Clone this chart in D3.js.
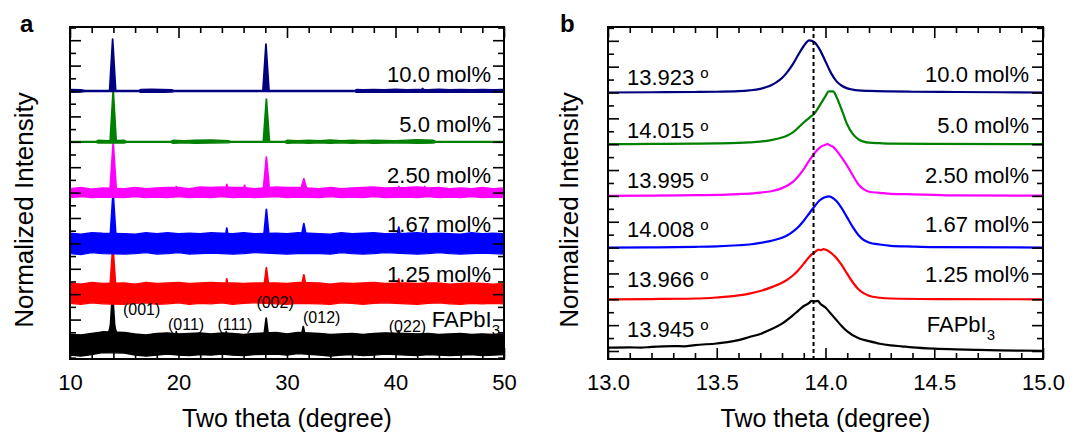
<!DOCTYPE html>
<html><head><meta charset="utf-8">
<script src="https://cdn.jsdelivr.net/npm/d3@7"></script>
<style>
body{margin:0;background:#fff;}
text{font-family:"Liberation Sans",Arial,sans-serif;fill:#000;}
</style></head><body>
<svg id="chart" width="1091" height="437"></svg>
<script>
// ---------------- DATA ----------------
// series order: bottom (offset 0) to top (offset 5)
const seriesLabels = ["FAPbI", "1.25 mol%", "1.67 mol%", "2.50 mol%", "5.0 mol%", "10.0 mol%"];
const seriesColors = ["#000000", "#ff0000", "#0000ff", "#ff00ff", "#008000", "#000080"];
const peakAngleLabels = ["13.945", "13.966", "14.008", "13.995", "14.015", "13.923"];
const refPeak = 13.945;
const xTicksA = [10, 20, 30, 40, 50];
const xTicksB = [13.0, 13.5, 14.0, 14.5, 15.0];
const hklText = ["(001)", "(011)", "(111)", "(002)", "(012)", "(022)"];
const hklAngle = [16.6, 20.7, 25.2, 28.9, 33.2, 41.1];

// panel a: noise band [2θ, low, high] (normalized intensity, relative to trace baseline)
const bandA0 = [[10,-0.2,0.21],[11,-0.22,0.2],[12,-0.19,0.23],[13,-0.15,0.26],[15,-0.16,0.25],[16,-0.2,0.22],[17,-0.22,0.2],[18,-0.2,0.23],[19,-0.18,0.24],[20,-0.2,0.22],[21,-0.21,0.23],[22,-0.19,0.24],[23,-0.2,0.22],[24,-0.18,0.24],[25,-0.2,0.23],[26,-0.21,0.21],[27,-0.19,0.23],[29,-0.18,0.25],[30,-0.2,0.22],[31,-0.17,0.25],[33,-0.2,0.23],[34,-0.22,0.21],[35,-0.2,0.22],[36,-0.19,0.23],[37,-0.21,0.21],[38,-0.2,0.23],[39,-0.18,0.24],[41,-0.2,0.23],[42,-0.21,0.22],[43,-0.19,0.23],[44,-0.2,0.21],[45,-0.21,0.22],[46,-0.2,0.23],[47,-0.19,0.21],[48,-0.21,0.22],[49,-0.2,0.21],[50,-0.19,0.22]];
const bandA1 = [[10,-0.18,0.22],[11,-0.2,0.2],[12,-0.17,0.23],[13,-0.19,0.21],[15,-0.2,0.22],[16,-0.18,0.2],[17,-0.17,0.23],[18,-0.2,0.21],[19,-0.19,0.22],[20,-0.17,0.23],[21,-0.2,0.21],[22,-0.18,0.22],[23,-0.19,0.23],[24,-0.17,0.22],[25,-0.2,0.22],[26,-0.18,0.21],[27,-0.17,0.22],[29,-0.19,0.22],[30,-0.2,0.21],[31,-0.18,0.23],[33,-0.19,0.22],[34,-0.2,0.2],[35,-0.17,0.22],[36,-0.18,0.21],[37,-0.2,0.22],[38,-0.18,0.23],[39,-0.17,0.21],[41,-0.19,0.22],[42,-0.2,0.21],[43,-0.18,0.22],[44,-0.17,0.22],[45,-0.19,0.2],[46,-0.2,0.21],[47,-0.18,0.22],[48,-0.19,0.21],[49,-0.18,0.2],[50,-0.19,0.21]];
const bandA2 = [[10,-0.2,0.2],[11,-0.22,0.18],[12,-0.18,0.21],[13,-0.2,0.2],[15,-0.21,0.19],[16,-0.2,0.18],[17,-0.18,0.21],[18,-0.21,0.19],[19,-0.2,0.21],[20,-0.18,0.19],[21,-0.21,0.2],[22,-0.2,0.19],[23,-0.19,0.21],[24,-0.2,0.2],[25,-0.21,0.19],[26,-0.2,0.21],[27,-0.18,0.19],[29,-0.2,0.2],[30,-0.21,0.19],[31,-0.2,0.21],[33,-0.2,0.19],[34,-0.21,0.18],[35,-0.18,0.21],[36,-0.2,0.19],[37,-0.21,0.2],[38,-0.2,0.21],[39,-0.18,0.19],[41,-0.2,0.2],[42,-0.21,0.21],[43,-0.2,0.19],[44,-0.18,0.2],[45,-0.2,0.19],[46,-0.21,0.18],[47,-0.2,0.21],[48,-0.19,0.19],[49,-0.2,0.2],[50,-0.21,0.19]];
const bandA3 = [[10,-0.1,0.08],[11,-0.08,0.1],[12,-0.1,0.07],[13,-0.09,0.09],[15,-0.1,0.08],[16,-0.08,0.1],[17,-0.1,0.08],[18,-0.09,0.09],[19,-0.1,0.1],[20,-0.08,0.1],[21,-0.1,0.08],[22,-0.09,0.11],[23,-0.1,0.1],[24,-0.08,0.11],[25,-0.1,0.1],[26,-0.09,0.1],[27,-0.1,0.08],[29,-0.08,0.11],[30,-0.1,0.1],[31,-0.09,0.1],[33,-0.1,0.08],[34,-0.08,0.1],[35,-0.1,0.08],[36,-0.09,0.09],[37,-0.1,0.1],[38,-0.08,0.11],[39,-0.1,0.09],[41,-0.09,0.1],[42,-0.1,0.11],[43,-0.08,0.09],[44,-0.1,0.1],[45,-0.09,0.08],[46,-0.1,0.09],[47,-0.08,0.08],[48,-0.1,0.1],[49,-0.09,0.08],[50,-0.1,0.09]];
const bandA4 = [[10,-0.01,0.01],[12.4,-0.01,0.01],[12.6,-0.025,0.03],[13.5,-0.02,0.025],[15,-0.025,0.03],[15.2,-0.01,0.01],[19.3,-0.01,0.01],[19.5,-0.03,0.03],[20.5,-0.02,0.025],[21.5,-0.03,0.03],[23,-0.025,0.035],[24.6,-0.02,0.025],[24.8,-0.01,0.01],[29.8,-0.01,0.01],[30,-0.03,0.03],[31,-0.02,0.025],[32,-0.03,0.03],[33,-0.02,0.025],[34,-0.03,0.035],[35,-0.02,0.025],[36,-0.03,0.03],[37,-0.02,0.025],[38,-0.03,0.03],[40,-0.02,0.025],[42,-0.03,0.04],[43.5,-0.025,0.03],[43.7,-0.01,0.01],[50,-0.01,0.01]];
const bandA5 = [[10,-0.025,0.03],[11,-0.02,0.025],[11.4,-0.01,0.01],[16.3,-0.01,0.01],[16.5,-0.025,0.03],[17.5,-0.02,0.035],[18.5,-0.025,0.03],[19.4,-0.02,0.025],[19.6,-0.01,0.01],[36.2,-0.01,0.01],[36.4,-0.025,0.03],[37,-0.02,0.025],[38,-0.025,0.03],[39,-0.02,0.025],[40,-0.025,0.035],[41,-0.02,0.025],[42,-0.025,0.03],[43,-0.02,0.025],[44,-0.025,0.035],[45,-0.02,0.025],[46,-0.025,0.03],[47,-0.02,0.025],[48,-0.025,0.03],[49,-0.02,0.025],[50,-0.025,0.03]];

// panel a: peaks [2θ, height, half base width]
const peaksA0 = [[13.92,0.5,0.7],[13.92,1.04,0.3],[28.08,0.53,0.3],[31.5,0.36,0.35],[40.3,0.28,0.3],[19.8,0.26,0.2],[24.4,0.26,0.2]];
const peaksA1 = [[13.95,0.95,0.3],[28.1,0.52,0.3],[31.55,0.38,0.35],[40.3,0.3,0.25],[24.45,0.3,0.2],[42.8,0.28,0.2]];
const peaksA2 = [[13.97,1.0,0.3],[28.1,0.67,0.3],[31.55,0.39,0.35],[40.3,0.32,0.25],[24.45,0.3,0.2],[42.8,0.28,0.2]];
const peaksA3 = [[13.98,0.98,0.3],[28.1,0.7,0.3],[31.55,0.27,0.35],[24.45,0.16,0.2],[26.1,0.14,0.2],[19.8,0.12,0.15],[40.3,0.12,0.2],[42.7,0.12,0.2]];
const peaksA4 = [[13.98,1.02,0.28],[28.1,0.84,0.28]];
const peaksA5 = [[13.93,1.02,0.28],[28.06,0.92,0.28],[42.5,0.05,0.15]];

// panel b: [2θ, normalized intensity]
const traceB0 = [[13.0,0.064],[13.1,0.07],[13.15,0.064],[13.2,0.08],[13.3,0.095],[13.35,0.09],[13.4,0.115],[13.5,0.145],[13.55,0.17],[13.6,0.21],[13.65,0.27],[13.7,0.33],[13.75,0.42],[13.8,0.53],[13.85,0.69],[13.875,0.78],[13.9,0.87],[13.925,0.93],[13.935,0.97],[13.95,0.96],[13.965,0.97],[13.975,0.92],[14.0,0.84],[14.025,0.72],[14.05,0.6],[14.075,0.48],[14.1,0.38],[14.15,0.25],[14.2,0.19],[14.25,0.14],[14.3,0.11],[14.35,0.09],[14.4,0.07],[14.5,0.045],[14.6,0.03],[14.7,0.02],[14.8,0.012],[14.9,0.008],[15.0,0.005]];
const traceB1 = [[13.0,0.0],[13.2,0.005],[13.4,0.015],[13.5,0.035],[13.55,0.05],[13.6,0.075],[13.65,0.11],[13.7,0.16],[13.75,0.23],[13.8,0.32],[13.825,0.38],[13.85,0.46],[13.875,0.56],[13.9,0.69],[13.925,0.82],[13.95,0.91],[13.97,0.96],[13.98,0.95],[13.99,0.97],[14.0,0.96],[14.025,0.9],[14.05,0.8],[14.075,0.66],[14.1,0.49],[14.125,0.33],[14.15,0.2],[14.175,0.12],[14.2,0.07],[14.25,0.03],[14.3,0.015],[14.5,0.005],[15.0,0.0]];
const traceB2 = [[13.0,0.0],[13.2,0.005],[13.4,0.015],[13.5,0.025],[13.6,0.045],[13.65,0.06],[13.7,0.09],[13.75,0.13],[13.8,0.19],[13.825,0.24],[13.85,0.31],[13.875,0.4],[13.9,0.52],[13.925,0.66],[13.95,0.8],[13.975,0.92],[14.0,0.98],[14.015,0.99],[14.03,0.97],[14.05,0.9],[14.075,0.76],[14.1,0.58],[14.125,0.4],[14.15,0.25],[14.175,0.15],[14.2,0.1],[14.25,0.06],[14.3,0.035],[14.4,0.02],[14.5,0.01],[15.0,0.0]];
const traceB3 = [[13.0,0.0],[13.2,0.005],[13.4,0.015],[13.5,0.02],[13.6,0.035],[13.65,0.045],[13.7,0.065],[13.75,0.09],[13.8,0.15],[13.825,0.2],[13.85,0.27],[13.875,0.38],[13.9,0.52],[13.925,0.68],[13.95,0.83],[13.975,0.94],[14.0,0.99],[14.01,1.0],[14.02,0.98],[14.035,0.95],[14.05,0.88],[14.075,0.74],[14.1,0.58],[14.125,0.4],[14.15,0.23],[14.175,0.13],[14.2,0.08],[14.25,0.06],[14.3,0.04],[14.4,0.03],[14.5,0.02],[14.6,0.01],[15.0,0.005]];
const traceB4 = [[13.0,0.0],[13.2,0.005],[13.4,0.01],[13.5,0.015],[13.6,0.025],[13.65,0.035],[13.7,0.05],[13.75,0.08],[13.8,0.13],[13.825,0.17],[13.85,0.23],[13.875,0.32],[13.9,0.42],[13.925,0.51],[13.95,0.6],[13.975,0.76],[14.0,0.93],[14.015,1.02],[14.035,1.02],[14.05,0.92],[14.075,0.66],[14.1,0.38],[14.125,0.2],[14.15,0.1],[14.175,0.05],[14.2,0.03],[14.25,0.02],[14.3,0.012],[14.5,0.005],[15.0,0.0]];
const traceB5 = [[13.0,0.0],[13.2,0.005],[13.4,0.01],[13.5,0.015],[13.6,0.025],[13.65,0.04],[13.7,0.07],[13.725,0.1],[13.75,0.14],[13.775,0.2],[13.8,0.28],[13.825,0.4],[13.85,0.55],[13.875,0.73],[13.9,0.9],[13.925,1.01],[13.95,0.97],[13.975,0.82],[14.0,0.6],[14.025,0.38],[14.05,0.22],[14.075,0.13],[14.1,0.08],[14.125,0.055],[14.15,0.04],[14.2,0.03],[14.3,0.02],[14.4,0.015],[14.6,0.01],[14.8,0.005],[15.0,0.0]];

const bandsA = [bandA0, bandA1, bandA2, bandA3, bandA4, bandA5];
const peaksA = [peaksA0, peaksA1, peaksA2, peaksA3, peaksA4, peaksA5];
const tracesB = [traceB0, traceB1, traceB2, traceB3, traceB4, traceB5];

// ---------------- LAYOUT ----------------
const svg = d3.select("#chart");
const yTop = 27, yBot = 359;
const xA = d3.scaleLinear().domain([10, 50]).range([70, 504]);
const yA = d3.scaleLinear().domain([-0.276, 6.26]).range([yBot, yTop]);
const xB = d3.scaleLinear().domain([13, 15]).range([608, 1043]);
const yB = d3.scaleLinear().domain([-0.155, 6.267]).range([yBot, yTop]);

const defs = svg.append("defs");
function clip(id, x0, x1) {
  defs.append("clipPath").attr("id", id).append("rect")
    .attr("x", x0).attr("y", yTop).attr("width", x1 - x0).attr("height", yBot - yTop);
}
clip("clipA", 70, 504);
clip("clipB", 608, 1043);

function axes(x, y, xTicks, minorX, fmt) {
  const g = svg.append("g");
  const yMinor = d3.range(-0.25, 6.26, 0.25).filter(v => v > y.domain()[0] && v < y.domain()[1]);
  const yMajor = yMinor.filter(v => Math.abs(v * 2 - Math.round(v * 2)) < 1e-6);
  const yMin = yMinor.filter(v => !yMajor.includes(v));
  const xMin = minorX.filter(v => !xTicks.some(t => Math.abs(t - v) < 1e-6));
  const x0 = x.range()[0], x1 = x.range()[1];
  const mk = (axis, tr) => {
    const a = g.append("g").attr("transform", tr).call(axis);
    a.select(".domain").remove();
    a.selectAll(".tick line").attr("stroke", "#000").attr("stroke-width", 1.6);
    return a;
  };
  mk(d3.axisBottom(x).tickValues(xMin).tickSize(-6).tickFormat(""), `translate(0,${yBot})`);
  const bx = mk(d3.axisBottom(x).tickValues(xTicks).tickSize(-11).tickPadding(15).tickFormat(fmt), `translate(0,${yBot})`);
  bx.selectAll("text").attr("font-size", 22).attr("font-family", '"Liberation Sans",Arial,sans-serif').attr("fill", "#000");
  mk(d3.axisTop(x).tickValues(xMin).tickSize(-6).tickFormat(""), `translate(0,${yTop})`);
  mk(d3.axisTop(x).tickValues(xTicks).tickSize(-11).tickFormat(""), `translate(0,${yTop})`);
  mk(d3.axisLeft(y).tickValues(yMin).tickSize(-6).tickFormat(""), `translate(${x0},0)`);
  mk(d3.axisLeft(y).tickValues(yMajor).tickSize(-11).tickFormat(""), `translate(${x0},0)`);
  mk(d3.axisRight(y).tickValues(yMin).tickSize(-6).tickFormat(""), `translate(${x1},0)`);
  mk(d3.axisRight(y).tickValues(yMajor).tickSize(-11).tickFormat(""), `translate(${x1},0)`);
  g.append("rect").attr("x", x0).attr("y", yTop).attr("width", x1 - x0).attr("height", yBot - yTop)
    .attr("fill", "none").attr("stroke", "#000").attr("stroke-width", 2);
}

// ---------------- PANEL A ----------------
const gA = svg.append("g").attr("clip-path", "url(#clipA)");
bandsA.forEach((band, i) => {
  const c = seriesColors[i];
  const g = gA.append("g");
  g.append("path").datum(band)
    .attr("d", d3.area().x(d => xA(d[0])).y0(d => yA(i + d[1])).y1(d => yA(i + d[2])))
    .attr("fill", c).attr("stroke", c).attr("stroke-width", 1.3).attr("stroke-linejoin", "round");
  peaksA[i].forEach(p => {
    const pts = [[p[0] - p[2], 0], [p[0], p[1]], [p[0] + p[2], 0]];
    g.append("path").datum(pts)
      .attr("d", d3.area().x(d => xA(d[0])).y0(yA(i)).y1(d => yA(i + d[1])))
      .attr("fill", c).attr("stroke", c).attr("stroke-width", 1.8).attr("stroke-linejoin", "round");
  });
});
axes(xA, yA, xTicksA, d3.range(10, 50.01, 2), d3.format("d"));

const labelBaseA = [327, 282, 232, 183, 132, 82];
seriesLabels.forEach((s, i) => {
  const t = svg.append("text").attr("font-size", 22).attr("text-anchor", "end").attr("y", labelBaseA[i]);
  if (i === 0) {
    t.attr("x", 500).text(s);
    t.append("tspan").attr("font-size", 15).attr("dy", 8).text("3");
  } else {
    t.attr("x", 491).text(s);
  }
});
const hklBase = [315, 330, 330, 308, 323, 332];
hklText.forEach((h, i) => {
  svg.append("text").attr("x", xA(hklAngle[i])).attr("y", hklBase[i])
    .attr("text-anchor", "middle").attr("font-size", 16).text(h);
});

// ---------------- PANEL B ----------------
const gB = svg.append("g").attr("clip-path", "url(#clipB)");
tracesB.forEach((tr, i) => {
  gB.append("path").datum(tr)
    .attr("d", d3.line().x(d => xB(d[0])).y(d => yB(i + d[1])).curve(d3.curveMonotoneX))
    .attr("fill", "none").attr("stroke", seriesColors[i]).attr("stroke-width", 2.2).attr("stroke-linejoin", "round");
});
svg.append("line").attr("x1", xB(refPeak)).attr("x2", xB(refPeak)).attr("y1", yTop).attr("y2", yBot)
  .attr("stroke", "#000").attr("stroke-width", 2).attr("stroke-dasharray", "4,3");
axes(xB, yB, xTicksB, d3.range(13, 15.001, 0.1), d3.format(".1f"));

const labelBaseB = [332, 282, 232, 183, 133, 82];
seriesLabels.forEach((s, i) => {
  const t = svg.append("text").attr("font-size", 22).attr("text-anchor", "end").attr("y", labelBaseB[i]);
  if (i === 0) {
    t.attr("x", 995).text(s);
    t.append("tspan").attr("font-size", 15).attr("dy", 8).text("3");
  } else {
    t.attr("x", 1029).text(s);
  }
});
const angleBase = [337, 287, 237, 188, 138, 85];
peakAngleLabels.forEach((a, i) => {
  const t = svg.append("text").attr("x", 627).attr("y", angleBase[i]).attr("font-size", 22).text(a);
  t.append("tspan").attr("font-size", 15).attr("dx", 6).attr("dy", -7).text("o");
});

// ---------------- TITLES ----------------
[[xA, 33], [xB, 578]].forEach(([x, yl]) => {
  svg.append("text").attr("x", (x.range()[0] + x.range()[1]) / 2).attr("y", 427)
    .attr("text-anchor", "middle").attr("font-size", 25).text("Two theta (degree)");
  svg.append("text").attr("transform", `translate(${yl},210) rotate(-90)`)
    .attr("text-anchor", "middle").attr("font-size", 26).text("Normalized Intensity");
});
svg.append("text").attr("x", 20).attr("y", 32).attr("font-size", 24).attr("font-weight", "bold").text("a");
svg.append("text").attr("x", 560).attr("y", 32).attr("font-size", 24).attr("font-weight", "bold").text("b");
</script>
</body></html>
